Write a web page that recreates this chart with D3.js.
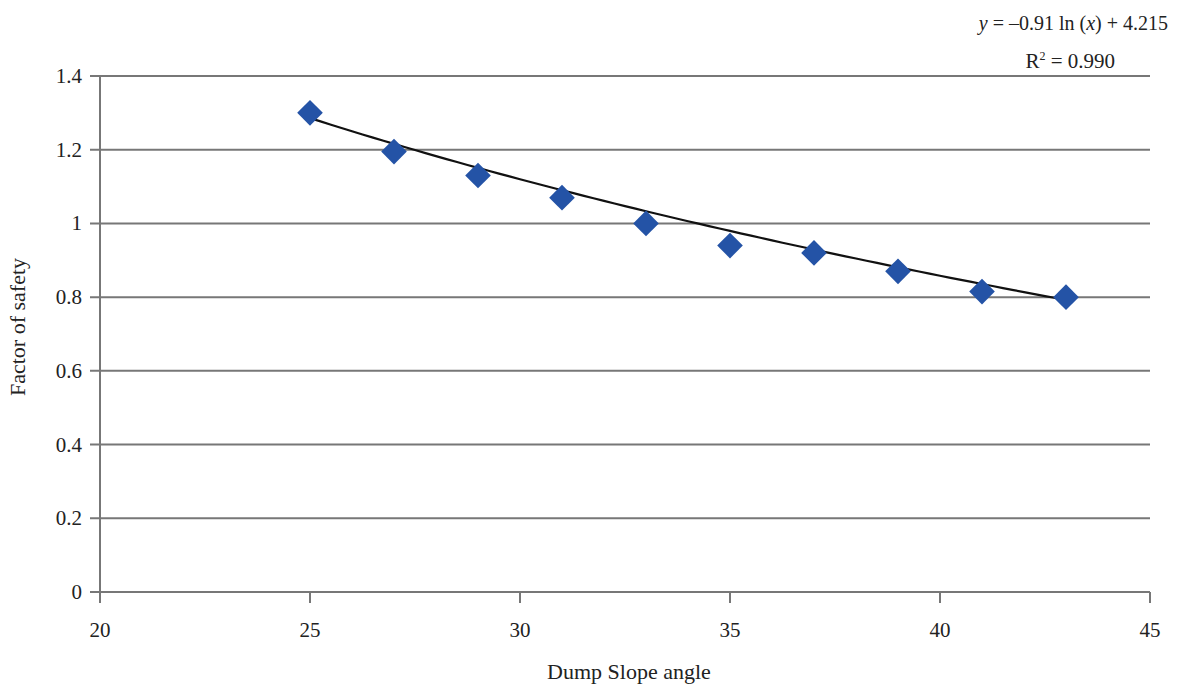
<!DOCTYPE html>
<html><head><meta charset="utf-8">
<script src="https://cdn.jsdelivr.net/npm/d3@7"></script>
<style>body{margin:0;background:#fff}svg{display:block}text{font-family:"Liberation Serif","Times New Roman",serif;fill:#222}</style>
</head><body><svg id="c" width="1181" height="685"></svg>
<script>
const angles = [25, 27, 29, 31, 33, 35, 37, 39, 41, 43];
const fos = [1.30, 1.195, 1.13, 1.07, 1.00, 0.94, 0.92, 0.87, 0.815, 0.80];
const xTicks = [20, 25, 30, 35, 40, 45];
const yTicks = [0, 0.2, 0.4, 0.6, 0.8, 1, 1.2, 1.4];
const fitA = -0.91, fitB = 4.215;

const svg = d3.select("#c");
const x = d3.scaleLinear().domain([20, 45]).range([100, 1150]);
const y = d3.scaleLinear().domain([0, 1.4]).range([592, 76]);

svg.append("g").selectAll("line").data(yTicks).join("line")
  .attr("x1", 90).attr("x2", 1150).attr("y1", d => y(d)).attr("y2", d => y(d))
  .attr("stroke", "#777").attr("stroke-width", 2);
svg.append("line").attr("x1", 100).attr("x2", 100).attr("y1", 76).attr("y2", 602)
  .attr("stroke", "#777").attr("stroke-width", 2);
svg.append("g").selectAll("line").data(xTicks).join("line")
  .attr("x1", d => x(d)).attr("x2", d => x(d)).attr("y1", 592).attr("y2", 603)
  .attr("stroke", "#777").attr("stroke-width", 2);
svg.append("g").selectAll("text").data(yTicks).join("text")
  .attr("x", 82).attr("y", d => y(d) + 7).attr("text-anchor", "end")
  .attr("font-size", 21).text(d => d3.format("")(d));
svg.append("g").selectAll("text").data(xTicks).join("text")
  .attr("x", d => x(d)).attr("y", 637).attr("text-anchor", "middle")
  .attr("font-size", 21).text(d => d);

svg.append("text").attr("x", 629).attr("y", 679).attr("text-anchor", "middle")
  .attr("font-size", 22).text("Dump Slope angle");
svg.append("text").attr("transform", "translate(25,327) rotate(-90)")
  .attr("text-anchor", "middle").attr("font-size", 22).text("Factor of safety");

const xs = d3.range(angles[0], angles[angles.length - 1] + 0.01, 0.25);
svg.append("path").datum(xs)
  .attr("d", d3.line().x(d => x(d)).y(d => y(fitA * Math.log(d) + fitB)))
  .attr("fill", "none").attr("stroke", "#111").attr("stroke-width", 2.2);

svg.append("g").selectAll("path").data(angles).join("path")
  .attr("transform", (d, i) => `translate(${x(d)},${y(fos[i])})`)
  .attr("d", d3.symbol(d3.symbolDiamond2, 420)())
  .attr("fill", "#2453a6");

const eq = svg.append("text").attr("x", 1168).attr("y", 30).attr("text-anchor", "end").attr("font-size", 20);
eq.append("tspan").attr("font-style", "italic").text("y");
eq.append("tspan").text(" = \u20130.91 ln (");
eq.append("tspan").attr("font-style", "italic").text("x");
eq.append("tspan").text(") + 4.215");
const r2 = svg.append("text").attr("x", 1115).attr("y", 68).attr("text-anchor", "end").attr("font-size", 21);
r2.append("tspan").text("R");
r2.append("tspan").attr("font-size", 12).attr("dy", -8).text("2");
r2.append("tspan").attr("dy", 8).text(" = 0.990");
</script></body></html>
